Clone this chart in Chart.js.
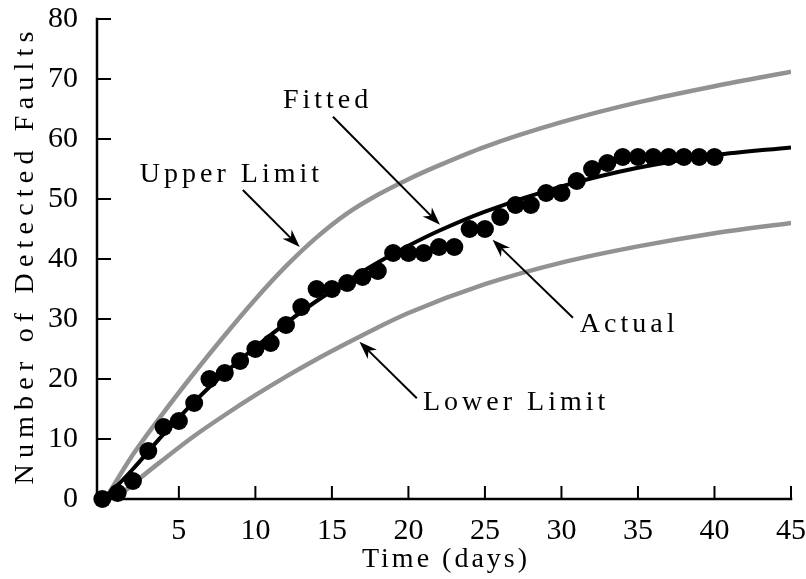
<!DOCTYPE html>
<html>
<head>
<meta charset="utf-8">
<script src="https://cdn.jsdelivr.net/npm/chart.js@4.4.1/dist/chart.umd.min.js"></script>
<style>
  html, body { margin: 0; padding: 0; background: #fff; }
</style>
</head>
<body>
<canvas id="faultChart" width="806" height="579"></canvas>
<script>
// observed data (one value per day)
const days = [0,1,2,3,4,5,6,7,8,9,10,11,12,13,14,15,16,17,18,19,20,21,22,23,24,25,26,27,28,29,30,31,32,33,34,35,36,37,38,39,40];
const actualFaults = [0,1,3,8,12,13,16,20,21,23,25,26,29,32,35,35,36,37,38,41,41,41,42,42,45,45,47,49,49,51,51,53,55,56,57,57,57,57,57,57,57];

// curves
const fittedDays = [0,1,2,4,6,8,10,12,14,16,18,20,22,25,30,35,40,45];
const fittedFaults = [0,2.3,5,10.8,16.2,21,25.3,29.3,33,36.3,39.4,42.2,44.7,47.9,52.1,55.2,57.3,58.6];
const upperDays = [0.2,2,4,6,8,10,12,14,16,18,20,22,25,30,35,40,45];
const upperFaults = [0,7.4,14.4,21,27.3,33.3,38.8,43.6,47.6,50.7,53.3,55.6,58.7,62.8,66.1,68.8,71.2];
const lowerDays = [0.9,2,4,6,8,10,12,14,16,18,20,25,30,35,40,45];
const lowerFaults = [0,2.5,6.6,10.5,14,17.3,20.4,23.3,26,28.6,31,35.8,39.4,42.1,44.3,46];

const xTicks = [5,10,15,20,25,30,35,40,45];
const yTicks = [0,10,20,30,40,50,60,70,80];

const xTitle = "Time (days)";
const yTitle = "Number of Detected Faults";

// callouts, in data units
const callouts = [
  {text: "Fitted",      x: 11.8,  y: 65.2, from: [15.07, 63.7], to: [22.06, 45.7]},
  {text: "Upper Limit", x: 2.45,  y: 52.8, from: [9.18, 51.5],  to: [12.9, 42.0]},
  {text: "Actual",      x: 31.2,  y: 27.8, from: [30.75, 30.2], to: [25.5, 43.2]},
  {text: "Lower Limit", x: 20.95, y: 14.8, from: [20.55, 16.8], to: [16.8, 26.2]}
];

const serif = "'Liberation Serif', 'Times New Roman', serif";

const toPoints = (xs, ys) => xs.map((x, i) => ({x: x, y: ys[i]}));

function drawArrow(ctx, x1, y1, x2, y2) {
  const a = Math.atan2(y2 - y1, x2 - x1);
  const len = 18, w = 6.5;
  ctx.beginPath();
  ctx.moveTo(x1, y1);
  ctx.lineTo(x2 - 8 * Math.cos(a), y2 - 8 * Math.sin(a));
  ctx.stroke();
  ctx.beginPath();
  ctx.moveTo(x2, y2);
  ctx.lineTo(x2 - len * Math.cos(a) + w * Math.sin(a), y2 - len * Math.sin(a) - w * Math.cos(a));
  ctx.lineTo(x2 - 0.7 * len * Math.cos(a), y2 - 0.7 * len * Math.sin(a));
  ctx.lineTo(x2 - len * Math.cos(a) - w * Math.sin(a), y2 - len * Math.sin(a) + w * Math.cos(a));
  ctx.closePath();
  ctx.fill();
}

const axesPlugin = {
  id: "axesPlugin",
  beforeDatasetsDraw(chart) {
    const ctx = chart.ctx;
    const xs = chart.scales.x, ys = chart.scales.y;
    const area = chart.chartArea;
    ctx.save();
    ctx.strokeStyle = "#000";
    ctx.lineWidth = 2.5;
    ctx.lineCap = "square";
    ctx.beginPath();
    ctx.moveTo(area.left, area.top);
    ctx.lineTo(area.left, area.bottom);
    ctx.lineTo(area.right, area.bottom);
    ctx.stroke();
    ctx.lineWidth = 2;
    ctx.lineCap = "butt";
    yTicks.forEach(v => {
      const py = ys.getPixelForValue(v);
      ctx.beginPath();
      ctx.moveTo(area.left, py);
      ctx.lineTo(area.left + 14, py);
      ctx.stroke();
    });
    xTicks.forEach(v => {
      const px = xs.getPixelForValue(v);
      ctx.beginPath();
      ctx.moveTo(px, area.bottom);
      ctx.lineTo(px, area.bottom - 13);
      ctx.stroke();
    });
    ctx.restore();
  },
  afterDraw(chart) {
    const ctx = chart.ctx;
    const xs = chart.scales.x, ys = chart.scales.y;
    const area = chart.chartArea;
    ctx.save();
    ctx.fillStyle = "#000";
    ctx.strokeStyle = "#000";

    // axis titles
    ctx.font = "28px " + serif;
    ctx.textAlign = "center";
    ctx.textBaseline = "alphabetic";
    ctx.letterSpacing = "3px";
    ctx.fillText(xTitle, (area.left + area.right) / 2 + 2, 567);

    ctx.save();
    ctx.translate(33, (area.top + area.bottom) / 2 - 4);
    ctx.rotate(-Math.PI / 2);
    ctx.letterSpacing = "6.2px";
    ctx.fillText(yTitle, 0, 0);
    ctx.restore();

    // callouts
    ctx.letterSpacing = "4px";
    ctx.textAlign = "left";
    ctx.lineWidth = 2;
    callouts.forEach(c => {
      ctx.fillText(c.text, xs.getPixelForValue(c.x), ys.getPixelForValue(c.y));
      drawArrow(ctx,
        xs.getPixelForValue(c.from[0]), ys.getPixelForValue(c.from[1]),
        xs.getPixelForValue(c.to[0]), ys.getPixelForValue(c.to[1]));
    });
    ctx.restore();
  }
};

const ctx = document.getElementById("faultChart").getContext("2d");
const limitGray = "#929292";

new Chart(ctx, {
  type: "scatter",
  data: {
    datasets: [
      {
        label: "Actual",
        data: toPoints(days, actualFaults),
        backgroundColor: "#000",
        borderColor: "#000",
        borderWidth: 0,
        pointRadius: 9,
        showLine: false,
        clip: false,
        order: 0
      },
      {
        label: "Fitted",
        type: "line",
        data: toPoints(fittedDays, fittedFaults),
        borderColor: "#000",
        borderWidth: 4,
        pointRadius: 0,
        cubicInterpolationMode: "monotone",
        fill: false,
        order: 1
      },
      {
        label: "Upper Limit",
        type: "line",
        data: toPoints(upperDays, upperFaults),
        borderColor: limitGray,
        borderWidth: 4.5,
        pointRadius: 0,
        cubicInterpolationMode: "monotone",
        fill: false,
        order: 2
      },
      {
        label: "Lower Limit",
        type: "line",
        data: toPoints(lowerDays, lowerFaults),
        borderColor: limitGray,
        borderWidth: 4.5,
        pointRadius: 0,
        cubicInterpolationMode: "monotone",
        fill: false,
        order: 2
      }
    ]
  },
  options: {
    responsive: false,
    animation: false,
    layout: { padding: { top: 19, right: 15, left: 0, bottom: 0 } },
    plugins: {
      legend: { display: false },
      tooltip: { enabled: false }
    },
    scales: {
      x: {
        type: "linear",
        min: -0.35,
        max: 45,
        afterBuildTicks: s => { s.ticks = xTicks.map(v => ({value: v})); },
        afterFit: s => {
          s.height = 80;
          s.paddingLeft = 0;
          s.paddingRight = 0;
        },
        grid: { display: false, drawTicks: false },
        border: { display: false },
        ticks: {
          color: "#000",
          padding: 14,
          maxRotation: 0,
          autoSkip: false,
          font: { family: serif, size: 30 }
        }
      },
      y: {
        type: "linear",
        min: 0,
        max: 80,
        afterBuildTicks: s => { s.ticks = yTicks.map(v => ({value: v})); },
        afterFit: s => {
          s.width = 97;
          s.paddingTop = 0;
          s.paddingBottom = 0;
        },
        grid: { display: false, drawTicks: false },
        border: { display: false },
        ticks: {
          color: "#000",
          padding: 19,
          autoSkip: false,
          font: { family: serif, size: 30 }
        }
      }
    }
  },
  plugins: [axesPlugin]
});
</script>
</body>
</html>
